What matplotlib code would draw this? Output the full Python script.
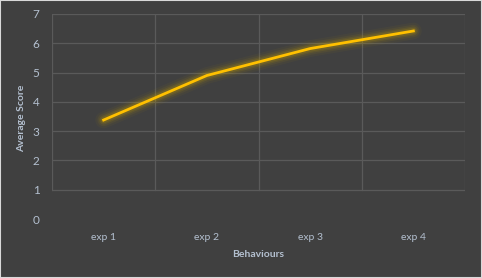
import matplotlib
matplotlib.use("Agg")
import matplotlib.pyplot as plt
from matplotlib.patches import Rectangle

categories = ["exp 1", "exp 2", "exp 3", "exp 4"]
scores = [3.38, 4.9, 5.82, 6.42]
yticks = [0, 1, 2, 3, 4, 5, 6, 7]

W, H = 482, 278
fig = plt.figure(figsize=(W/100, H/100), dpi=100)
fig.patch.set_facecolor("#404040")
fig.patches.append(Rectangle((0, 0), 1, 1, transform=fig.transFigure, fill=False,
                             edgecolor="#d9d9d9", linewidth=1.5))

ax = fig.add_axes([52/W, 1-219/H, (465-52)/W, (219-14)/H])
ax.set_facecolor("#404040")
ax.set_xlim(0, 4)
ax.set_ylim(0, 7)
for s in ax.spines.values():
    s.set_visible(False)

grid_c = "#5a5a5a"
for y in yticks[1:]:
    ax.plot([0, 4], [y, y], color=grid_c, lw=0.9, zorder=1)
for x in range(5):
    ax.plot([x, x], [1, 7], color=grid_c, lw=0.9, zorder=1)

xs = [i + 0.5 for i in range(len(categories))]
for lw, a in [(12, 0.05), (9, 0.08), (6.5, 0.12), (4.5, 0.18)]:
    ax.plot(xs, scores, color="#c8a000", lw=lw, alpha=a, solid_capstyle="round", zorder=2)
ax.plot(xs, scores, color="#FFC000", lw=2.0, zorder=3)

txt_c = "#b4c0d0"
ax.set_xticks(xs)
ax.set_xticklabels(categories)
ax.set_yticks(yticks)
ax.tick_params(length=0, colors=txt_c, labelsize=7.5)
ax.tick_params(axis="x", pad=10)
ax.tick_params(axis="y", pad=9, labelsize=8.5)
for lab in ax.get_xticklabels() + ax.get_yticklabels():
    lab.set_family("Lato")
ax.set_xlabel("Behaviours", color=txt_c, fontsize=7.5, fontweight="bold", family="Lato", labelpad=6)
fig.text(22/W, 1-118/H, "Average Score", rotation=90, color=txt_c, fontsize=7.5,
         fontweight="bold", family="Lato", ha="center", va="center")

fig.savefig("out.png", dpi=100, facecolor=fig.get_facecolor())
